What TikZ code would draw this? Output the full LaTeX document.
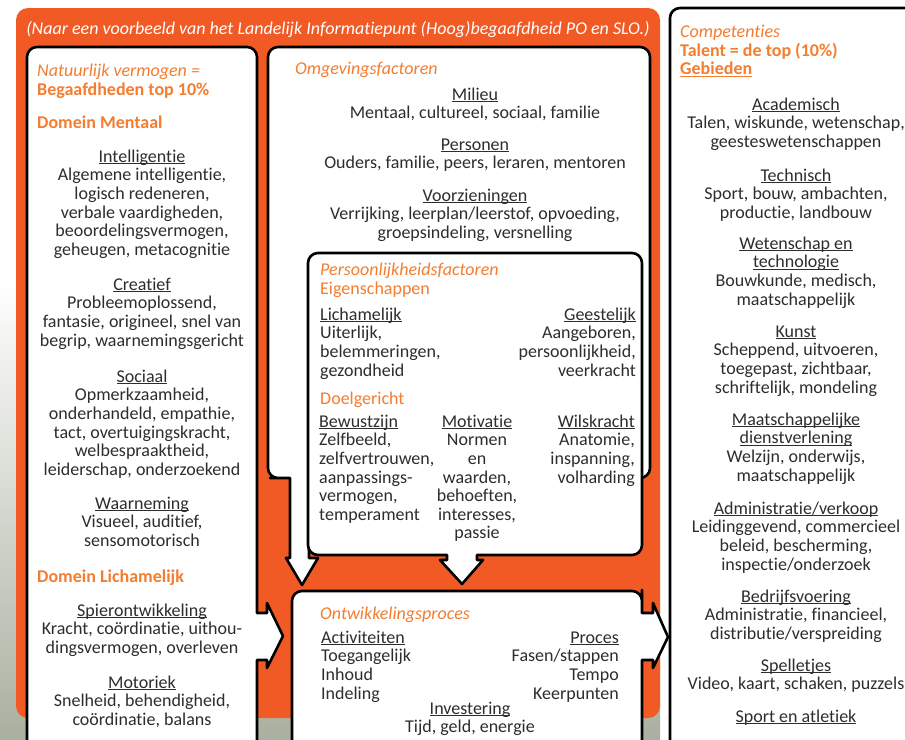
\documentclass[tikz,border=0pt]{standalone}
\usepackage{fontspec}
\setmainfont{Carlito}[Ligatures=NoCommon]
\usepackage{tikz}
\definecolor{oranje}{RGB}{241,90,36}
\definecolor{kopkleur}{RGB}{244,125,48}
\definecolor{tekst}{RGB}{45,45,45}
\definecolor{foto}{RGB}{170,176,160}
\newcommand{\tekstfont}{\fontsize{18}{18.6}\selectfont}
\newcommand{\kop}[1]{\strut\underline{\smash{#1}}}
\tikzstyle{kader}=[draw=black,line width=2.6pt,fill=white,line join=round]
\tikzstyle{tekstblok}=[font=\tekstfont,text=tekst,align=center,anchor=north,inner sep=0pt]
\tikzstyle{tekstlinks}=[tekstblok,align=left,anchor=north west]
\tikzstyle{tekstrechts}=[tekstblok,align=right,anchor=north east]
\tikzstyle{oranjekop}=[tekstlinks,text=kopkleur]

\begin{document}
\begin{tikzpicture}[x=1pt,y=-1pt]
\useasboundingbox (0,0) rectangle (905,739);
\clip (0,0) rectangle (905,739);
% background
\shade[top color=white,bottom color=foto] (0,280) rectangle (660,739);
\fill[oranje,rounded corners=12pt] (16,8) rectangle (660,718);
% boxes
\draw[kader] (670,760) [rounded corners=10pt] -- (670,8) -- (930,8) -- (930,760) -- cycle;
\draw[kader] (27,760) [rounded corners=10pt] -- (27,47) -- (257,47) -- (257,300) [sharp corners] -- (257,613) -- (267,613) -- (267,603) -- (283,636) -- (267,668) -- (267,660) -- (257,660) -- (257,760);
\draw[kader] (600,478) [rounded corners=10pt] -- (650,478) -- (650,47) -- (268,47) -- (268,478) -- (280,478) [sharp corners] -- (290,478) -- (290,558) -- (286,558) -- (302,585) -- (318,558) -- (309,558) -- (309,478) -- cycle;
\draw[kader] (400,555) [rounded corners=10pt] -- (308,555) -- (308,253) -- (642,253) -- (642,555) -- (500,555) [sharp corners] -- (477,555) -- (477,560) -- (483,560) -- (462,584) -- (440,560) -- (447,560) -- (447,555) -- cycle;
\draw[kader] (292,760) [rounded corners=10pt] -- (292,591) -- (642,591) -- (642,600) [sharp corners] -- (642,613) -- (653,613) -- (653,603) -- (668,637) -- (653,668) -- (653,660) -- (642,660) -- (642,760);
% title
\node[tekstblok,text=white] (titel) at (338,21) {\itshape (Naar een voorbeeld van het Landelijk Informatiepunt (Hoog)begaafdheid PO en SLO.)};
% left column
\node[oranjekop] (natuurlijk) at (37,64) {{\itshape Natuurlijk vermogen =}\\{\bfseries Begaafdheden top 10\%}};
\node[oranjekop] (mentaal) at (37,116) {\bfseries Domein Mentaal};
\node[tekstblok] (intelligentie) at (142,149) {\kop{Intelligentie}\\Algemene intelligentie,\\logisch redeneren,\\verbale vaardigheden,\\beoordelingsvermogen,\\geheugen, metacognitie};
\node[tekstblok] (creatief) at (142,277) {\kop{Creatief}\\Probleemoplossend,\\fantasie, origineel, snel van\\begrip, waarnemingsgericht};
\node[tekstblok] (sociaal) at (142,369) {\kop{Sociaal}\\Opmerkzaamheid,\\onderhandeld, empathie,\\tact, overtuigingskracht,\\welbespraaktheid,\\leiderschap, onderzoekend};
\node[tekstblok] (waarneming) at (142,496) {\kop{Waarneming}\\Visueel, auditief,\\sensomotorisch};
\node[oranjekop] (lichamelijk) at (37,570) {\bfseries Domein Lichamelijk};
\node[tekstblok] (spier) at (142,603) {\kop{Spierontwikkeling}\\Kracht, coördinatie, uithou-\\dingsvermogen, overleven};
\node[tekstblok] (motoriek) at (142,675) {\kop{Motoriek}\\Snelheid, behendigheid,\\coördinatie, balans};
% environment
\node[oranjekop] (omgeving) at (295,62) {\itshape Omgevingsfactoren};
\node[tekstblok] (milieu) at (475,87) {\kop{Milieu}\\Mentaal, cultureel, sociaal, familie};
\node[tekstblok] (personen) at (475,137) {\kop{Personen}\\Ouders, familie, peers, leraren, mentoren};
\node[tekstblok] (voorzieningen) at (475,188) {\kop{Voorzieningen}\\Verrijking, leerplan/leerstof, opvoeding,\\groepsindeling, versnelling};
% personality
\node[oranjekop] (persoon) at (320,263) {{\itshape Persoonlijkheidsfactoren}\\Eigenschappen};
\node[tekstlinks] (lichaam) at (320,307) {\kop{Lichamelijk}\\Uiterlijk,\\belemmeringen,\\gezondheid};
\node[tekstrechts] (geest) at (636,307) {\kop{Geestelijk}\\Aangeboren,\\persoonlijkheid,\\veerkracht};
\node[oranjekop] (doel) at (320,392) {Doelgericht};
\node[tekstlinks] (bewust) at (319,414) {\kop{Bewustzijn}\\Zelfbeeld,\\zelfvertrouwen,\\aanpassings-\\vermogen,\\temperament};
\node[tekstblok] (motivatie) at (477,414) {\kop{Motivatie}\\Normen\\en\\waarden,\\behoeften,\\interesses,\\passie};
\node[tekstrechts] (wils) at (635,414) {\kop{Wilskracht}\\Anatomie,\\inspanning,\\volharding};
% development
\node[oranjekop] (ontwikkeling) at (320,607) {\itshape Ontwikkelingsproces};
\node[tekstlinks] (activiteiten) at (321,630) {\kop{Activiteiten}\\Toegangelijk\\Inhoud\\Indeling};
\node[tekstrechts] (proces) at (619,630) {\kop{Proces}\\Fasen/stappen\\Tempo\\Keerpunten};
\node[tekstblok] (investering) at (470,701) {\kop{Investering}\\Tijd, geld, energie};
% right column
\node[oranjekop] (competenties) at (680,25) {{\itshape Competenties}\\{\bfseries Talent = de top (10\%)}\\{\bfseries\kop{Gebieden}}};
\node[tekstblok] (academisch) at (796,97) {\kop{Academisch}\\Talen, wiskunde, wetenschap,\\geesteswetenschappen};
\node[tekstblok] (technisch) at (796,168) {\kop{Technisch}\\Sport, bouw, ambachten,\\productie, landbouw};
\node[tekstblok] (wetenschap) at (796,236) {\kop{Wetenschap en}\\\kop{technologie}\\Bouwkunde, medisch,\\maatschappelijk};
\node[tekstblok] (kunst) at (796,324) {\kop{Kunst}\\Scheppend, uitvoeren,\\toegepast, zichtbaar,\\schriftelijk, mondeling};
\node[tekstblok] (dienst) at (796,412) {\kop{Maatschappelijke}\\\kop{dienstverlening}\\Welzijn, onderwijs,\\maatschappelijk};
\node[tekstblok] (admin) at (796,501) {\kop{Administratie/verkoop}\\Leidinggevend, commercieel\\beleid, bescherming,\\inspectie/onderzoek};
\node[tekstblok] (bedrijf) at (796,589) {\kop{Bedrijfsvoering}\\Administratie, financieel,\\distributie/verspreiding};
\node[tekstblok] (spel) at (796,658) {\kop{Spelletjes}\\Video, kaart, schaken, puzzels};
\node[tekstblok] (sport) at (796,709) {\kop{Sport en atletiek}};
\end{tikzpicture}
\end{document}
